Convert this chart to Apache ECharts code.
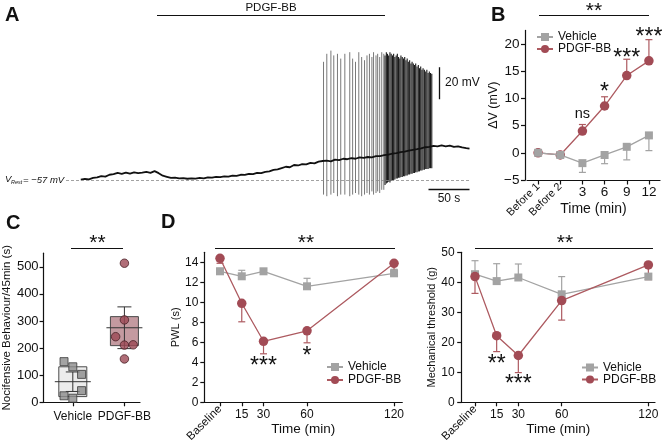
<!DOCTYPE html>
<html>
<head>
<meta charset="utf-8">
<script src="https://cdn.jsdelivr.net/npm/echarts@6.0.0/dist/echarts.min.js"></script>
<style>
html,body{margin:0;padding:0;background:#fff;}
#chart{width:666px;height:447px;}
</style>
</head>
<body>
<div id="chart"></div>
<script>
// ---------- Panel A: membrane potential recording ----------
const traceTime = [0,5,10,15,20,25,30,35,40,45,50,55,60,65,70,75,80,85,90,95,100,105,110,115,120,125,130,135,140,145,150,155,160,165,170,175,180,185,190,195,200,205,210,215,220,225,230,235,240,245,250,255,260,265,270,275,280,285,290,295,300,305,310,315,320,325,330,335,340,345,350,355,360,365,370,375,380,385,390,395,400,405,410,415,420,425,430,435,440,445,450,455,460,465,470,474];
const traceV = [-56.6,-56.2,-56.5,-55.6,-55.2,-54.4,-54.8,-53.6,-53.2,-52.4,-53.0,-52.2,-52.9,-52.1,-52.6,-52.3,-51.8,-52.4,-51.3,-52.6,-54.2,-54.9,-55.6,-55.4,-55.9,-55.7,-56.1,-55.8,-56.0,-55.6,-55.8,-55.2,-55.4,-54.9,-55.1,-54.6,-54.8,-54.1,-54.3,-53.6,-53.7,-53.0,-53.2,-52.4,-52.6,-51.8,-51.5,-50.6,-50.2,-49.4,-48.6,-48.9,-47.5,-47.8,-46.9,-47.1,-46.2,-46.5,-45.4,-45.0,-44.8,-45.2,-44.1,-44.5,-43.6,-43.9,-43.2,-43.6,-42.8,-43.1,-42.5,-42.7,-42.0,-41.9,-41.3,-41.0,-40.4,-40.1,-39.4,-39.2,-38.5,-38.0,-37.6,-37.1,-36.4,-36.2,-35.5,-35.8,-35.2,-35.9,-35.4,-36.2,-35.8,-36.5,-36.9,-37.2];
const spikeTime = [296,300,305,308.5,313,317,322,328,331.5,335,339,342.5,346,349,352,355,357,360,362,364.5,367,369.5,371,372.6,374,375.4,377,378.5,380.1,381.5,383,384.6,386,387.5,389,390.4,392,393.6,395,396.5,398,399.4,401,402.6,404,405.5,407,408.4,410,411.6,413,414.5,416,417.4,419,420.6,422,423.5,425,426.4,428];
const spikePeak = [17,22,24,21,22,19,22,23,19,17,23,20,18,21,22,20,23,21,22,20,23,22,21,23,22,21,23,22,21,22,20,21,22,20,19,21,20,19,20,18,19,17,18,16,17,16,15,16,14,15,13,14,12,13,12,11,12,10,11,10,9.5];
const spikeTrough = [-66,-67,-66,-65,-67,-66,-66,-67,-66,-65,-66,-67,-66,-65,-66,-64,-66,-65,-64,-65,-63,-63,-60,-59,-58.5,-58,-58.5,-57.5,-57,-57,-56.5,-56,-56,-55.5,-55.5,-55,-55,-54.5,-54.5,-54,-54,-53.5,-53.5,-53,-53,-52.5,-52.5,-52,-52,-51.5,-51.5,-51,-51,-50.5,-50.5,-50,-50,-50,-49.5,-49.5,-49.5];
const restV = -57;
const scaleBarMV = 20;   // vertical scale bar (mV)
const scaleBarS = 50;    // horizontal scale bar (s)

// ---------- Panel B ----------
const bCats = ['Before 1','Before 2','3','6','9','12'];
const bVehicle = [0, -0.4, -1.9, -0.4, 1.1, 3.2];
const bVehicleErr = [0, 0, 1.7, 1.6, 2.4, 2.8];
const bPdgf = [0, -0.4, 4.0, 8.6, 14.2, 16.9];
const bPdgfErr = [0, 0, 1.2, 1.7, 3.0, 3.9];
const bSigText = ['', '', 'ns', '*', '***', '***'];
const bSigY = [null, null, 6.95, 12.0, 18.3, 22.0];
const bYTicks = [-5, 0, 5, 10, 15, 20];

// ---------- Panel C ----------
const cCats = ['Vehicle','PDGF-BB'];
const cVehiclePts = [150, 131, 103, 43, 24, 15];
const cVehicleJitter = [-0.17, 0, 0.17, 0.17, -0.17, 0];
const cPdgfPts = [513, 304, 242, 211, 212, 160];
const cPdgfJitter = [0, 0, -0.17, 0, 0.17, 0];
const cBoxLow = [21, 209];
const cBoxHigh = [131, 316];
const cMean = [76, 275];
const cSem = [36, 77];
const cYTicks = [0, 100, 200, 300, 400, 500];

// ---------- Panel D ----------
const dTimes = [0, 15, 30, 60, 120];
const dTimeLabels = ['Baseline', '15', '30', '60', '120'];
const pwlVehicle = [13.1, 12.6, 13.1, 11.6, 12.9];
const pwlVehicleErr = [0.3, 0.6, 0.25, 0.8, 0.4];
const pwlPdgf = [14.4, 9.9, 6.1, 7.15, 13.9];
const pwlPdgfErr = [0.5, 1.85, 1.25, 1.2, 1.2];
const pwlSigText = ['', '', '***', '*', ''];
const pwlSigY = [null, null, 4.06, 5.06, null];
const pwlYTicks = [0, 2, 4, 6, 8, 10, 12, 14];
const mechVehicle = [42.7, 40.4, 41.6, 36.0, 41.9];
const mechVehicleErr = [4.5, 5.8, 4.5, 5.9, 1.0];
const mechPdgf = [41.9, 22.2, 15.6, 33.9, 45.8];
const mechPdgfErr = [5.6, 5.3, 5.7, 6.5, 4.9];
const mechSigText = ['', '**', '***', '', ''];
const mechSigY = [null, 14.33, 7.67, null, null];
const mechYTicks = [0, 10, 20, 30, 40, 50];

// ---------- styling ----------
const FONT = "'Liberation Sans', Arial, Helvetica, sans-serif";
const INK = '#111111';
const GREY = '#a3a3a3';
const RED = '#a24b55';
const RED_LINE = '#ad5a60';

function minus(v){ return v < 0 ? '\u2212' + Math.abs(v) : String(v); }
const axisLine = {show:true, onZero:false, lineStyle:{color:INK, width:1.2}};
function ticks(vals, len){ return {show:true, length:len || 4, customValues:vals, lineStyle:{color:INK, width:1.2}}; }
function labels(vals, size, margin, fmt){
  const o = {show:true, fontSize:size, margin:margin, color:INK, fontFamily:FONT};
  if (vals) o.customValues = vals;
  if (fmt) o.formatter = fmt;
  return o;
}

function errSeries(xi, yi, xs, vals, errs, dir, color){
  const data = [];
  xs.forEach((x, i) => { if (errs[i] > 0) data.push([x, vals[i], vals[i] + dir * errs[i]]); });
  return {type:'custom', xAxisIndex:xi, yAxisIndex:yi, silent:true, z:2, data:data, encode:{x:0, y:[1,2]},
    renderItem: function(params, api){
      const a = api.coord([api.value(0), api.value(1)]);
      const b = api.coord([api.value(0), api.value(2)]);
      const st = {stroke:color, lineWidth:1.2};
      return {type:'group', children:[
        {type:'line', shape:{x1:a[0], y1:a[1], x2:b[0], y2:b[1]}, style:st},
        {type:'line', shape:{x1:b[0]-3.5, y1:b[1], x2:b[0]+3.5, y2:b[1]}, style:st}
      ]};
    }};
}
function lineSeries(name, xi, yi, data, sym, size, color, lineColor, z){
  return {name:name, type:'line', xAxisIndex:xi, yAxisIndex:yi, data:data, symbol:sym, symbolSize:size,
    showSymbol:true, z:z, itemStyle:{color:color, borderWidth:0}, lineStyle:{color:lineColor, width:1.3},
    emphasis:{disabled:true}};
}
function sigSeries(xi, yi, xs, ys, texts){
  const data = [];
  xs.forEach((x, i) => {
    if (texts[i]) {
      const star = texts[i].charAt(0) === '*';
      data.push({value:[x, ys[i]], label:{formatter:texts[i], fontSize: star ? 23 : 14.5, offset: star ? [0,5] : [0,-1]}});
    }
  });
  return {type:'scatter', xAxisIndex:xi, yAxisIndex:yi, data:data, symbolSize:1, itemStyle:{color:'rgba(255,255,255,0)'},
    silent:true, z:10, label:{show:true, position:'inside', color:INK, opacity:1, textBorderWidth:0, fontFamily:FONT}};
}
function txt(text, x, y, size, opts){
  opts = opts || {};
  return {type:'text', x:x, y:y, silent:true, z:100, style:{text:text, fontSize:size, fontFamily:FONT,
    fontWeight:opts.weight || 'normal', fontStyle:opts.style || 'normal', fill:INK,
    align:opts.align || 'center', verticalAlign:'middle', textAlign:opts.align || 'center', textVerticalAlign:'middle'}};
}
function hline(x1, x2, y){ return {type:'line', silent:true, z:100, shape:{x1:x1, y1:y, x2:x2, y2:y}, style:{stroke:INK, lineWidth:1.2}}; }

const chart = echarts.init(document.getElementById('chart'), null, {renderer:'canvas', width:666, height:447});

const option = {
  animation:false,
  backgroundColor:'#ffffff',
  textStyle:{fontFamily:FONT, color:INK},
  grid:[
    {left:66, top:41, width:403.5, height:160},
    {left:527, top:30.4, width:133, height:149.6},
    {left:41, top:253.2, width:99, height:149.1},
    {left:204.3, top:252.3, width:198, height:150},
    {left:461.7, top:252.3, width:193.3, height:150}
  ],
  xAxis:[
    {gridIndex:0, type:'value', min:-18, max:474, show:false},
    {gridIndex:1, type:'category', data:bCats, boundaryGap:true, position:'bottom', axisLine:axisLine,
      axisTick:{show:true, interval:0, alignWithLabel:true, length:4.5, lineStyle:{color:INK, width:1.2}},
      axisLabel:{show:true, interval:function(i){ return i >= 2; }, fontSize:13.5, margin:5, color:INK, fontFamily:FONT},
      name:'Time (min)', nameLocation:'middle', nameGap:22, nameTextStyle:{fontSize:14, color:INK, fontFamily:FONT}},
    {gridIndex:1, type:'category', data:bCats, boundaryGap:true, position:'bottom', axisLine:{show:false}, axisTick:{show:false},
      axisLabel:{show:true, interval:function(i){ return i < 2; }, rotate:45, fontSize:11, margin:5, color:INK, fontFamily:FONT}},
    {gridIndex:2, type:'value', min:-0.566, max:1.302, position:'bottom', axisLine:axisLine, splitLine:{show:false},
      axisTick:ticks([0,1], 4), axisLabel:labels([0,1], 12, 8, function(v){ return cCats[Math.round(v)]; })},
    {gridIndex:3, type:'value', min:-10.83, max:125.7, position:'bottom', axisLine:axisLine, splitLine:{show:false},
      axisTick:ticks(dTimes, 4), axisLabel:labels(dTimes.slice(1), 12, 6, function(v){ return dTimeLabels[dTimes.indexOf(v)]; }),
      name:'Time (min)', nameLocation:'middle', nameGap:20, nameTextStyle:{fontSize:13.5, color:INK, fontFamily:FONT}},
    {gridIndex:3, type:'value', min:-10.83, max:125.7, position:'bottom', axisLine:{show:false}, axisTick:{show:false}, splitLine:{show:false},
      axisLabel:Object.assign(labels([0], 11.5, 5, function(){ return dTimeLabels[0]; }), {rotate:45})},
    {gridIndex:4, type:'value', min:-9.2, max:124.6, position:'bottom', axisLine:axisLine, splitLine:{show:false},
      axisTick:ticks(dTimes, 4), axisLabel:labels(dTimes.slice(1), 12, 6, function(v){ return dTimeLabels[dTimes.indexOf(v)]; }),
      name:'Time (min)', nameLocation:'middle', nameGap:20, nameTextStyle:{fontSize:13.5, color:INK, fontFamily:FONT}},
    {gridIndex:4, type:'value', min:-9.2, max:124.6, position:'bottom', axisLine:{show:false}, axisTick:{show:false}, splitLine:{show:false},
      axisLabel:Object.assign(labels([0], 11.5, 5, function(){ return dTimeLabels[0]; }), {rotate:45})}
  ],
  yAxis:[
    {gridIndex:0, type:'value', min:-70, max:30, show:false},
    {gridIndex:1, type:'value', min:-5, max:22.5, offset:1.5, axisLine:axisLine, splitLine:{show:false},
      axisTick:ticks(bYTicks, 4.5), axisLabel:labels(bYTicks, 13.5, 6, minus),
      name:'\u0394V (mV)', nameLocation:'middle', nameGap:13, nameTextStyle:{fontSize:12.5, color:INK, fontFamily:FONT}},
    {gridIndex:2, type:'value', min:0, max:550, axisLine:axisLine, splitLine:{show:false},
      axisTick:ticks(cYTicks, 4), axisLabel:labels(cYTicks, 13, 5),
      name:'Nocifensive Behaviour/45min (s)', nameLocation:'middle', nameGap:29, nameTextStyle:{fontSize:11.5, color:INK, fontFamily:FONT}},
    {gridIndex:3, type:'value', min:0, max:15, axisLine:axisLine, splitLine:{show:false},
      axisTick:ticks(pwlYTicks, 4), axisLabel:labels(pwlYTicks, 12, 6),
      name:'PWL (s)', nameLocation:'middle', nameGap:23, nameTextStyle:{fontSize:11, color:INK, fontFamily:FONT}},
    {gridIndex:4, type:'value', min:0, max:50, axisLine:axisLine, splitLine:{show:false},
      axisTick:ticks(mechYTicks, 4.5), axisLabel:labels(mechYTicks, 12, 7),
      name:'Mechanical threshold (g)', nameLocation:'middle', nameGap:24, nameTextStyle:{fontSize:11, color:INK, fontFamily:FONT}}
  ],
  legend:[
    {left:536, top:31, orient:'vertical', padding:0, itemWidth:16, itemHeight:10, itemGap:0, selectedMode:false,
      data:['Vehicle','PDGF-BB'], textStyle:{fontSize:12, color:INK, fontFamily:FONT, lineHeight:10}},
    {left:326, top:361, orient:'vertical', padding:0, itemWidth:16, itemHeight:10, itemGap:1, selectedMode:false,
      data:['Vehicle','PDGF-BB'], textStyle:{fontSize:12, color:INK, fontFamily:FONT, lineHeight:12}},
    {left:581, top:361.5, orient:'vertical', padding:0, itemWidth:16, itemHeight:10, itemGap:0, selectedMode:false,
      data:['Vehicle','PDGF-BB'], textStyle:{fontSize:12, color:INK, fontFamily:FONT, lineHeight:12}}
  ],
  series:[
    // ---- A ----
    {type:'custom', xAxisIndex:0, yAxisIndex:0, silent:true, z:2,
      data: spikeTime.map((t, i) => [t, spikePeak[i], spikeTrough[i]]), encode:{x:0, y:[1,2]},
      renderItem: function(params, api){
        const t = api.value(0);
        const a = api.coord([t, api.value(1)]);
        const b = api.coord([t, api.value(2)]);
        const sparse = t < 370;
        return {type:'line', shape:{x1:a[0], y1:a[1], x2:b[0], y2:b[1]},
          style:{stroke: sparse ? '#6a6a6a' : '#1a1a1a', lineWidth: sparse ? 0.9 : 1.1}};
      }},
    {type:'line', xAxisIndex:0, yAxisIndex:0, silent:true, z:3, showSymbol:false, symbol:'none',
      data: traceTime.map((t, i) => [t, traceV[i]]), lineStyle:{color:'#111', width:1.8},
      markLine:{silent:true, symbol:'none', label:{show:false}, animation:false,
        data:[
          {yAxis:restV, lineStyle:{type:[3,2], color:'#8a8a8a', width:0.8}},
          [{coord:[436.6, -6.4], lineStyle:{type:'solid', color:INK, width:1.3}}, {coord:[436.6, -6.4 + scaleBarMV]}],
          [{coord:[474 - scaleBarS, -62.6], lineStyle:{type:'solid', color:INK, width:1.3}}, {coord:[474, -62.6]}]
        ]}},
    // ---- B ----
    errSeries(1, 1, [0,1,2,3,4,5], bPdgf, bPdgfErr, 1, RED_LINE),
    errSeries(1, 1, [0,1,2,3,4,5], bVehicle, bVehicleErr, -1, GREY),
    lineSeries('PDGF-BB', 1, 1, bPdgf, 'circle', 9.5, RED, RED_LINE, 4),
    lineSeries('Vehicle', 1, 1, bVehicle, 'rect', 8, GREY, GREY, 5),
    sigSeries(1, 1, [0,1,2,3,4,5], bSigY, bSigText),
    // ---- C ----
    {type:'custom', xAxisIndex:3, yAxisIndex:2, silent:true, z:2,
      data: cCats.map((c, i) => [i, cBoxLow[i], cBoxHigh[i], cMean[i], cSem[i]]), encode:{x:0, y:[1,2]},
      renderItem: function(params, api){
        const x = api.value(0);
        const lo = api.coord([x, api.value(1)]), hi = api.coord([x, api.value(2)]);
        const m = api.coord([x, api.value(3)]);
        const s1 = api.coord([x, api.value(3) + api.value(4)]), s0 = api.coord([x, api.value(3) - api.value(4)]);
        const cx = lo[0];
        const fill = x === 0 ? '#ececec' : '#c49aa0';
        const st = {stroke:'#333', lineWidth:1};
        return {type:'group', children:[
          {type:'rect', shape:{x:cx-14, y:hi[1], width:28, height:lo[1]-hi[1]}, style:{fill:fill, stroke:'#4a4a4a', lineWidth:1}},
          {type:'line', shape:{x1:cx, y1:s1[1], x2:cx, y2:s0[1]}, style:st},
          {type:'line', shape:{x1:cx-7, y1:s1[1], x2:cx+7, y2:s1[1]}, style:st},
          {type:'line', shape:{x1:cx-7, y1:s0[1], x2:cx+7, y2:s0[1]}, style:st},
          {type:'line', shape:{x1:cx-18, y1:m[1], x2:cx+18, y2:m[1]}, style:st}
        ]};
      }},
    {type:'scatter', xAxisIndex:3, yAxisIndex:2, silent:true, z:5, symbol:'rect', symbolSize:8,
      data: cVehiclePts.map((v, i) => [0 + cVehicleJitter[i], v]), itemStyle:{color:'#8c8c8c', borderColor:'#3a3a3a', borderWidth:1}},
    {type:'scatter', xAxisIndex:3, yAxisIndex:2, silent:true, z:5, symbol:'circle', symbolSize:8.5,
      data: cPdgfPts.map((v, i) => [1 + cPdgfJitter[i], v]), itemStyle:{color:'#9c4855', borderColor:'#4a2228', borderWidth:1}},
    // ---- D left (PWL) ----
    errSeries(4, 3, dTimes, pwlVehicle, pwlVehicleErr, 1, GREY),
    errSeries(4, 3, dTimes, pwlPdgf, pwlPdgfErr, -1, RED_LINE),
    lineSeries('Vehicle', 4, 3, dTimes.map((t, i) => [t, pwlVehicle[i]]), 'rect', 8, GREY, GREY, 4),
    lineSeries('PDGF-BB', 4, 3, dTimes.map((t, i) => [t, pwlPdgf[i]]), 'circle', 9.5, RED, RED_LINE, 5),
    sigSeries(4, 3, dTimes, pwlSigY, pwlSigText),
    // ---- D right (mechanical) ----
    errSeries(6, 4, dTimes, mechVehicle, mechVehicleErr, 1, GREY),
    errSeries(6, 4, dTimes, mechPdgf, mechPdgfErr, -1, RED_LINE),
    lineSeries('Vehicle', 6, 4, dTimes.map((t, i) => [t, mechVehicle[i]]), 'rect', 8, GREY, GREY, 4),
    lineSeries('PDGF-BB', 6, 4, dTimes.map((t, i) => [t, mechPdgf[i]]), 'circle', 9.5, RED, RED_LINE, 5),
    sigSeries(6, 4, dTimes, mechSigY, mechSigText)
  ],
  graphic:[
    txt('A', 5, 15.5, 20, {weight:'bold', align:'left'}),
    txt('B', 491, 15.5, 20, {weight:'bold', align:'left'}),
    txt('C', 6, 223, 20, {weight:'bold', align:'left'}),
    txt('D', 161, 222, 20, {weight:'bold', align:'left'}),
    txt('PDGF-BB', 271, 8, 11.5),
    hline(157, 385, 15.5),
    txt('20 mV', 445, 83, 12, {align:'left'}),
    txt('50 s', 449, 199, 12),
    txt('V', 5, 179.5, 9.5, {style:'italic', align:'left'}),
    txt('Rest', 11, 182.5, 5.5, {style:'italic', align:'left'}),
    txt('= \u221257 mV', 23, 180, 9.5, {style:'italic', align:'left'}),
    txt('**', 594, 11.5, 21),
    hline(539, 649, 15.5),
    txt('**', 97.5, 243.5, 21),
    hline(71, 123, 248.5),
    txt('**', 306, 243.5, 21),
    hline(215, 395, 248.5),
    txt('**', 565, 243.5, 21),
    hline(475, 653, 248.5)
  ]
};
chart.setOption(option);
</script>
</body>
</html>
